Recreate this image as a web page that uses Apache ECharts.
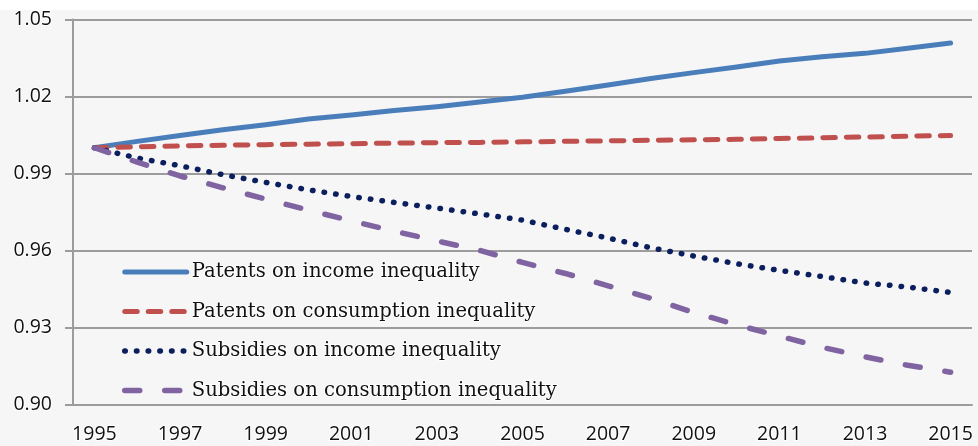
<!DOCTYPE html>
<html>
<head>
<meta charset="utf-8">
<script src="https://cdn.jsdelivr.net/npm/echarts@6/dist/echarts.min.js"></script>
<style>
html,body{margin:0;padding:0;background:#f6f6f6;}
#chart{width:978px;height:446px;}
</style>
</head>
<body>
<div id="chart"></div>
<script>
const years = ['1995','1996','1997','1998','1999','2000','2001','2002','2003','2004','2005','2006','2007','2008','2009','2010','2011','2012','2013','2014','2015'];
const patentsIncome = [1.000,1.0025,1.0048,1.007,1.009,1.0112,1.0128,1.0145,1.016,1.0178,1.0197,1.022,1.0245,1.027,1.0293,1.0315,1.0338,1.0355,1.0368,1.0388,1.0408];
const patentsConsumption = [1.000,1.0004,1.0007,1.001,1.0012,1.0014,1.0016,1.0018,1.002,1.0021,1.0023,1.0025,1.0027,1.0029,1.0031,1.0033,1.0036,1.0039,1.0042,1.0045,1.0048];
const subsidiesIncome = [1.000,0.9960,0.9930,0.9895,0.9865,0.9836,0.9810,0.9787,0.9765,0.9742,0.9718,0.9682,0.9648,0.9610,0.9578,0.9548,0.9522,0.9498,0.9473,0.9457,0.9436];
const subsidiesConsumption = [1.000,0.9944,0.9890,0.9844,0.9800,0.9757,0.9715,0.9675,0.9637,0.9600,0.9553,0.9510,0.9462,0.9413,0.9358,0.9310,0.9266,0.9222,0.9185,0.9152,0.9125];
const seriesNames = ['Patents on income inequality','Patents on consumption inequality','Subsidies on income inequality','Subsidies on consumption inequality'];
const yTicks = {min:0.90, max:1.05, interval:0.03};

const colors = ['#4A7EBB','#C0504D','#0B1F5E','#8064A2'];
const styles = [
  {width:5, type:'solid'},
  {width:5, type:[12.5,11]},
  {width:5.5, type:[0.5,11.2]},
  {width:5.5, type:[15,25]}
];

const chart = echarts.init(document.getElementById('chart'));
const gridColor = '#9c9c9c';
const halo = {textBorderColor:'#ffffff', textBorderWidth:2};
chart.setOption({
  backgroundColor:'#f6f6f6',
  animation:false,
  graphic:[{type:'rect', left:0, top:0, shape:{width:978, height:10}, style:{fill:'#ffffff'}, silent:true, z:-10}],
  grid:{left:73, right:6, top:19.5, bottom:41.7},
  legend:{
    orient:'vertical', left:122, top:261, padding:0,
    itemWidth:62, itemHeight:20, itemGap:17.5,
    data:seriesNames.map((n,i)=>({name:n, itemStyle:{opacity:0}, lineStyle:{width:styles[i].width, type:styles[i].type, cap:'round', color:colors[i]}})),
    itemStyle:{opacity:0},
    textStyle:Object.assign({fontFamily:'DejaVu Serif', fontSize:19.6, color:'#111', lineHeight:20}, halo)
  },
  xAxis:{
    type:'category', data:years, boundaryGap:true,
    axisLine:{lineStyle:{color:gridColor, width:2}},
    axisTick:{interval:0, length:6, lineStyle:{color:gridColor, width:2}},
    axisLabel:Object.assign({interval:1, margin:20, fontFamily:'Open Sans', fontSize:19.5, color:'#111'}, halo),
    splitLine:{show:false}
  },
  yAxis:{
    type:'value', min:yTicks.min, max:yTicks.max, interval:yTicks.interval,
    axisLine:{show:true, lineStyle:{color:gridColor, width:2}},
    axisTick:{show:true, length:8, lineStyle:{color:gridColor, width:2}},
    axisLabel:Object.assign({margin:21, fontFamily:'Open Sans', fontSize:19.5, color:'#111', formatter:v=>v.toFixed(2)}, halo),
    splitLine:{show:true, lineStyle:{color:gridColor, width:2}}
  },
  series:[patentsIncome, patentsConsumption, subsidiesIncome, subsidiesConsumption].map((d,i)=>({
    name:seriesNames[i], type:'line', data:d, symbol:'none',
    lineStyle:{color:colors[i], width:styles[i].width, type:styles[i].type, cap:'round', join:'round'},
    itemStyle:{color:colors[i]}
  }))
});
</script>
</body>
</html>
